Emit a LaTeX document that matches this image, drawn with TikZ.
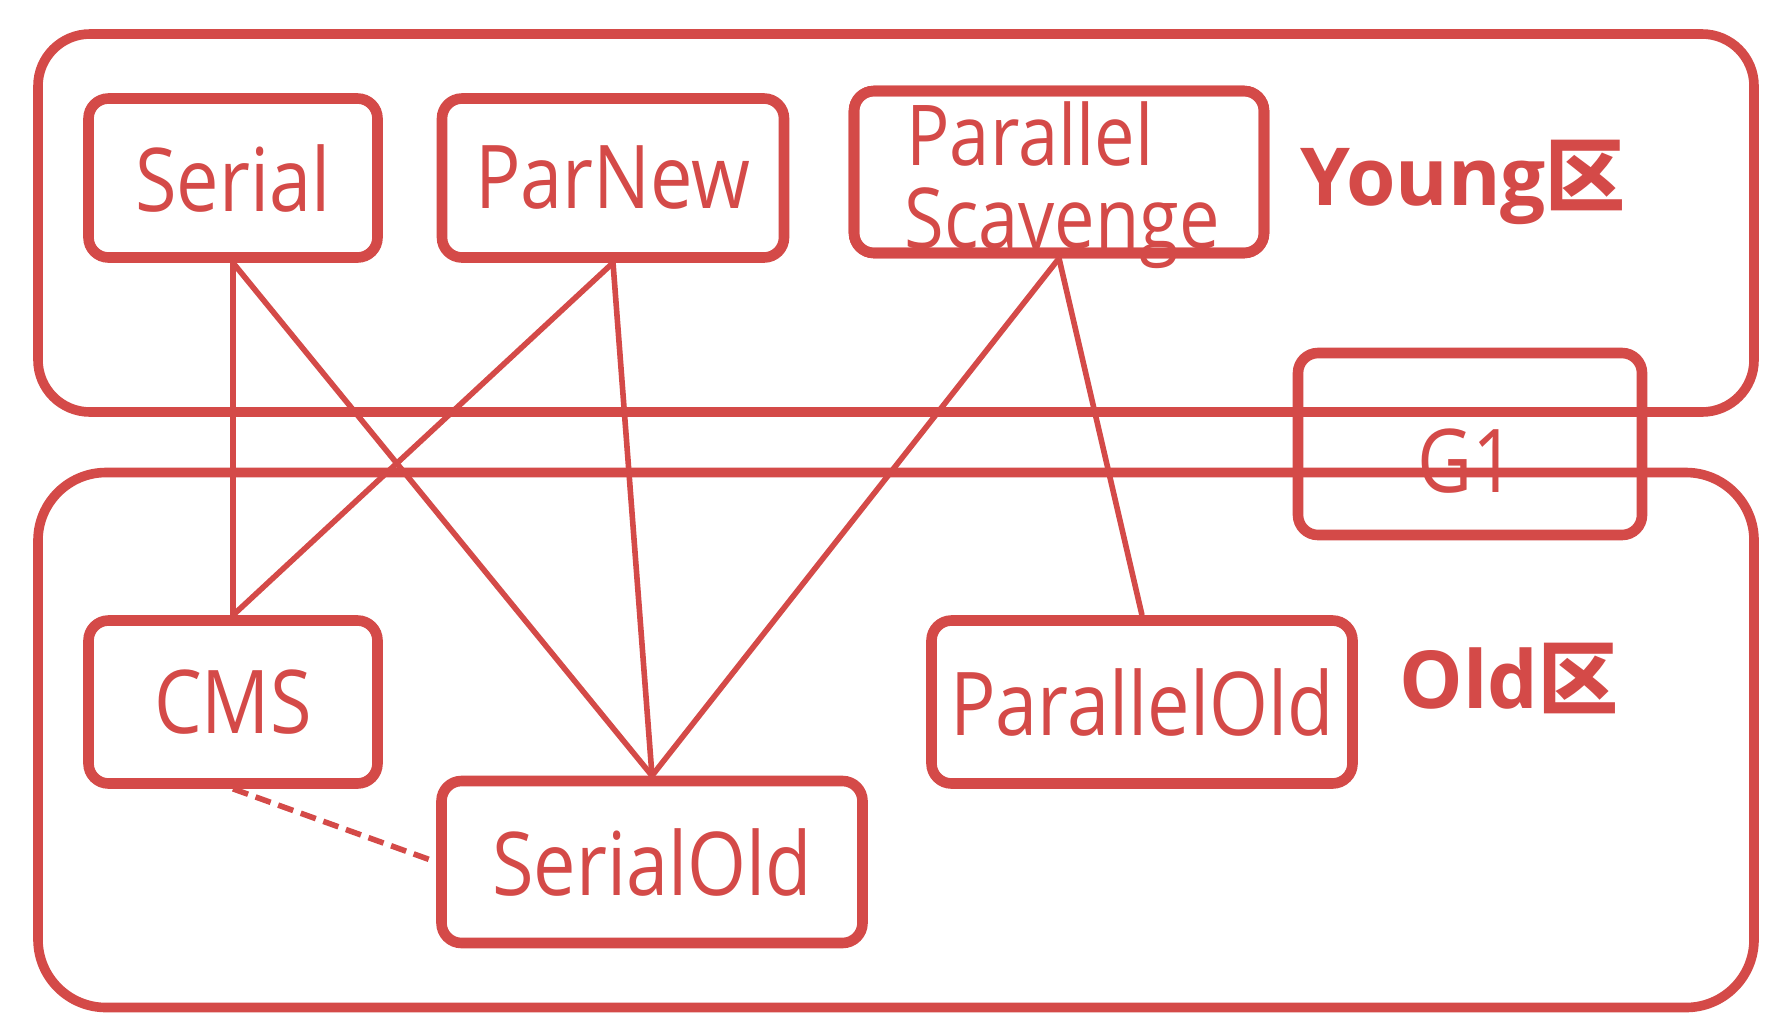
\documentclass[tikz,border=0pt]{standalone}
\usepackage{fontspec}
\usepackage{graphicx}
\setmainfont{Open Sans}
\newfontfamily\cjk{Noto Sans CJK SC}
\usetikzlibrary{shadows}
\definecolor{gcred}{RGB}{212,74,72}
% narrow the collector names horizontally
\newcommand\narrowtxt[1]{\scalebox{0.86}[1]{#1}}
\begin{document}
\begin{tikzpicture}[x=0.5pt,y=-0.5pt,
  region/.style={draw=gcred, line width=4.8pt, rounded corners=26pt, inner sep=0pt},
  frame/.style={draw=gcred, line width=5.3pt, rounded corners=10pt, inner sep=0pt},
  gcbox/.style={frame, fill=white,
    drop shadow={opacity=0.15, shadow xshift=1.5pt, shadow yshift=-2pt}},
  txt/.style={text=gcred, inner sep=0pt, font=\fontsize{44}{50}\selectfont},
  zone/.style={text=gcred, inner sep=0pt, font=\bfseries\fontsize{40}{46}\selectfont},
  link/.style={draw=gcred, line width=2.8pt},
]
\useasboundingbox[fill=white] (0,0) rectangle (1786,1034);

% G1 label sits underneath the region borders
\node[txt] (gonetext) at (1467,461) {\narrowtxt{G1}};

% generation regions
\node[region, minimum width=858pt, minimum height=189pt] (young) at (896,223) {};
\node[region, rounded corners=34pt, minimum width=858pt, minimum height=267.5pt] (old) at (896,740) {};

% collectors
\node[gcbox, txt, minimum width=144.5pt, minimum height=79.5pt] (serial) at (233,178) {\narrowtxt{Serial}};
\node[gcbox, txt, minimum width=171pt, minimum height=79.5pt] (parnew) at (613,178) {\narrowtxt{ParNew}};
\node[gcbox, minimum width=205pt, minimum height=81pt] (ps) at (1059,172) {};
\node[txt, font=\fontsize{42}{48}\selectfont, anchor=base west] (parallelword) at (906,165) {\narrowtxt{Parallel}};
\node[txt, font=\fontsize{42}{48}\selectfont, anchor=base west] (scavengeword) at (904,248) {\narrowtxt{Scavenge}};
\node[frame, minimum width=205pt, minimum height=81pt] (psframe) at (ps.center) {};
\node[frame, minimum width=172pt, minimum height=91pt] (gone) at (1470,444) {};
\node[gcbox, txt, minimum width=144.5pt, minimum height=81.5pt] (cms) at (233,702) {\narrowtxt{CMS}};
\node[gcbox, txt, minimum width=210.5pt, minimum height=81pt] (serialold) at (652,862) {\narrowtxt{SerialOld}};
\node[gcbox, txt, minimum width=210.5pt, minimum height=81.5pt] (parallelold) at (1142,702) {\narrowtxt{ParallelOld}};

% region labels
\node[zone] (younglabel) at (1463,182) {Young{\cjk 区}};
\node[zone] (oldlabel) at (1509,678) {Old{\cjk 区}};

% pairings
\draw[link] (serial.south) -- (cms.north);
\draw[link] (serial.south) -- (serialold.north);
\draw[link] (parnew.south) -- (cms.north);
\draw[link] (parnew.south) -- (serialold.north);
\draw[link] (ps.south) -- (serialold.north);
\draw[link] (ps.south) -- (parallelold.north);
\draw[link, dash pattern=on 8pt off 4pt] (cms.south) -- (serialold.west);
\end{tikzpicture}
\end{document}
